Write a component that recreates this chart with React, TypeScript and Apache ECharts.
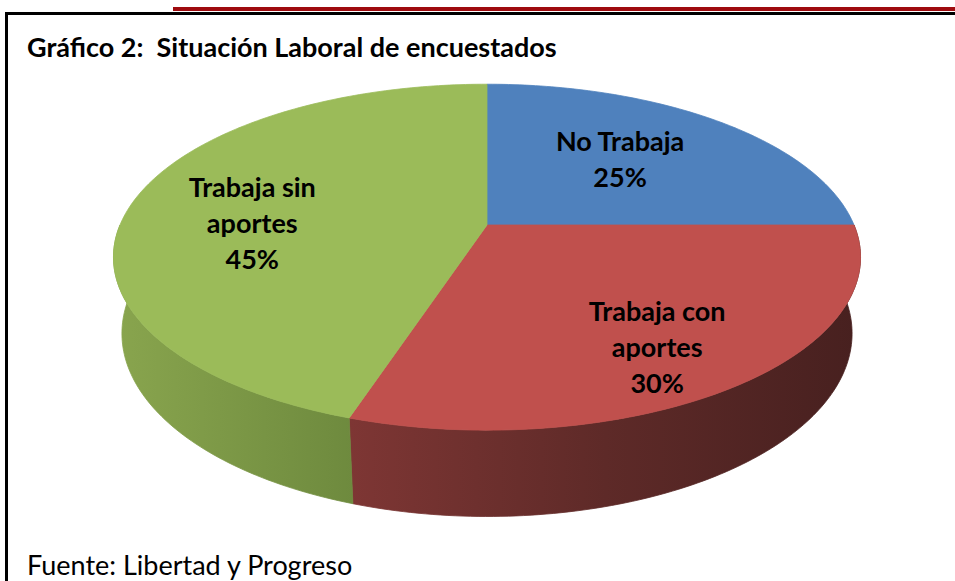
import React, { useEffect, useRef } from "react";
import * as echarts from "echarts";

// ---- data ----
const categories = ["No Trabaja", "Trabaja con aportes", "Trabaja sin aportes"];
const values = [25, 30, 45];
const titleText = "Gráfico 2:  Situación Laboral de encuestados";
const sourceText = "Fuente: Libertad y Progreso";

// ---- styles / layout ----
const TOP_COLORS = ["#4F81BD", "#C0504D", "#9BBB59"];
const SIDE_STOPS = [
  ["#3E6694", "#2B4768"],
  ["#7E3634", "#5E2A28", "#47201F"],
  ["#89A54E", "#6E8A3E"],
];
const VIEW = { cx: 487, cy: 225, S: 367, k: 0.186, sinA: 0.455, cosA: 0.8905, h: 0.235 };
const LABEL_LAYOUT = [
  { r: 0.55, dx: 0, dy: -6 },
  { r: 0.72, dx: -4, dy: 12 },
  { r: 0.66, dx: 0, dy: 14 },
];
const FONT = "Lato, 'Open Sans', sans-serif";

function project(u: number, v: number, z: number): number[] {
  const D = VIEW.cosA / VIEW.k;
  const F = VIEW.S * D;
  const yc = v * VIEW.sinA + z * VIEW.cosA;
  const depth = D + v * VIEW.cosA - z * VIEW.sinA;
  return [VIEW.cx + (F * u) / depth, VIEW.cy - (F * yc) / depth];
}

function sliceAngles(): number[][] {
  const total = values.reduce((a, b) => a + b, 0);
  let acc = 0;
  return values.map((v) => {
    const a0 = (acc / total) * Math.PI * 2;
    acc += v;
    const a1 = (acc / total) * Math.PI * 2;
    return [a0, a1];
  });
}

function labelText(name: string, value: number): string {
  const total = values.reduce((a, b) => a + b, 0);
  const pct = Math.round((value / total) * 100);
  const wrapped = name.replace(/ (aportes)$/, "\n$1");
  return wrapped + "\n" + pct + "%";
}

export default function App() {
  const ref = useRef<HTMLDivElement>(null);

  useEffect(() => {
    document.body.style.margin = "0";
    if (!ref.current) return;
    const chart = echarts.init(ref.current, null, { renderer: "svg" });
    const angles = sliceAngles();
    const data = values.map((v, i) => ({ value: v, name: categories[i] }));

    const option: any = {
      animation: false,
      backgroundColor: "#ffffff",
      graphic: [
        { type: "rect", shape: { x: 173, y: 7, width: 782, height: 4 }, style: { fill: "#9E0B0F" }, silent: true },
        { type: "rect", shape: { x: 5, y: 12, width: 950, height: 3 }, style: { fill: "#000000" }, silent: true },
        { type: "rect", shape: { x: 5, y: 12, width: 3, height: 569 }, style: { fill: "#000000" }, silent: true },
        {
          type: "text",
          x: 27,
          y: 46,
          style: { text: titleText, font: `bold 27px ${FONT}`, fill: "#000", verticalAlign: "middle", align: "left" },
          silent: true,
        },
        {
          type: "text",
          x: 27,
          y: 564,
          style: { text: sourceText, font: `27px ${FONT}`, fill: "#000", verticalAlign: "middle", align: "left" },
          silent: true,
        },
      ],
      series: [
        {
          type: "custom",
          name: "sides",
          coordinateSystem: "none",
          silent: true,
          z: 1,
          data,
          renderItem: (params: any) => {
            const i = params.dataIndex;
            const [a0, a1] = angles[i];
            const lo = Math.max(a0, Math.PI / 2);
            const hi = Math.min(a1, (3 * Math.PI) / 2);
            if (hi <= lo) return { type: "group", children: [] };
            const n = Math.max(8, Math.ceil(((hi - lo) * 180) / Math.PI));
            const pts: number[][] = [];
            for (let j = 0; j <= n; j++) {
              const t = lo + ((hi - lo) * j) / n;
              pts.push(project(Math.sin(t), Math.cos(t), 0));
            }
            for (let j = n; j >= 0; j--) {
              const t = lo + ((hi - lo) * j) / n;
              pts.push(project(Math.sin(t), Math.cos(t), -VIEW.h));
            }
            const stops = SIDE_STOPS[i].map((c, k, arr) => ({ offset: k / (arr.length - 1), color: c }));
            const grad = new echarts.graphic.LinearGradient(0, 0, 1, 0, stops);
            return {
              type: "polygon",
              shape: { points: pts },
              style: { fill: grad, stroke: grad, lineWidth: 0.8 },
            };
          },
        },
        {
          type: "custom",
          name: "tops",
          coordinateSystem: "none",
          silent: true,
          z: 2,
          data,
          renderItem: (params: any, api: any) => {
            const i = params.dataIndex;
            const [a0, a1] = angles[i];
            const n = Math.max(8, Math.ceil(((a1 - a0) * 180) / Math.PI));
            const pts: number[][] = [project(0, 0, 0)];
            for (let j = 0; j <= n; j++) {
              const t = a0 + ((a1 - a0) * j) / n;
              pts.push(project(Math.sin(t), Math.cos(t), 0));
            }
            const lay = LABEL_LAYOUT[i];
            const tm = (a0 + a1) / 2;
            const [lx, ly] = project(lay.r * Math.sin(tm), lay.r * Math.cos(tm), 0);
            return {
              type: "group",
              children: [
                {
                  type: "polygon",
                  shape: { points: pts },
                  style: { fill: TOP_COLORS[i], stroke: TOP_COLORS[i], lineWidth: 0.8 },
                },
                {
                  type: "text",
                  z2: 10,
                  style: {
                    text: labelText(categories[i], api.value(0)),
                    x: lx + lay.dx,
                    y: ly + lay.dy,
                    align: "center",
                    verticalAlign: "middle",
                    font: `bold 27px ${FONT}`,
                    lineHeight: 36,
                    fill: "#000000",
                  },
                },
              ],
            };
          },
        },
      ],
    };
    chart.setOption(option);
    return () => chart.dispose();
  }, []);

  return <div ref={ref} style={{ width: 955, height: 581 }} />;
}
